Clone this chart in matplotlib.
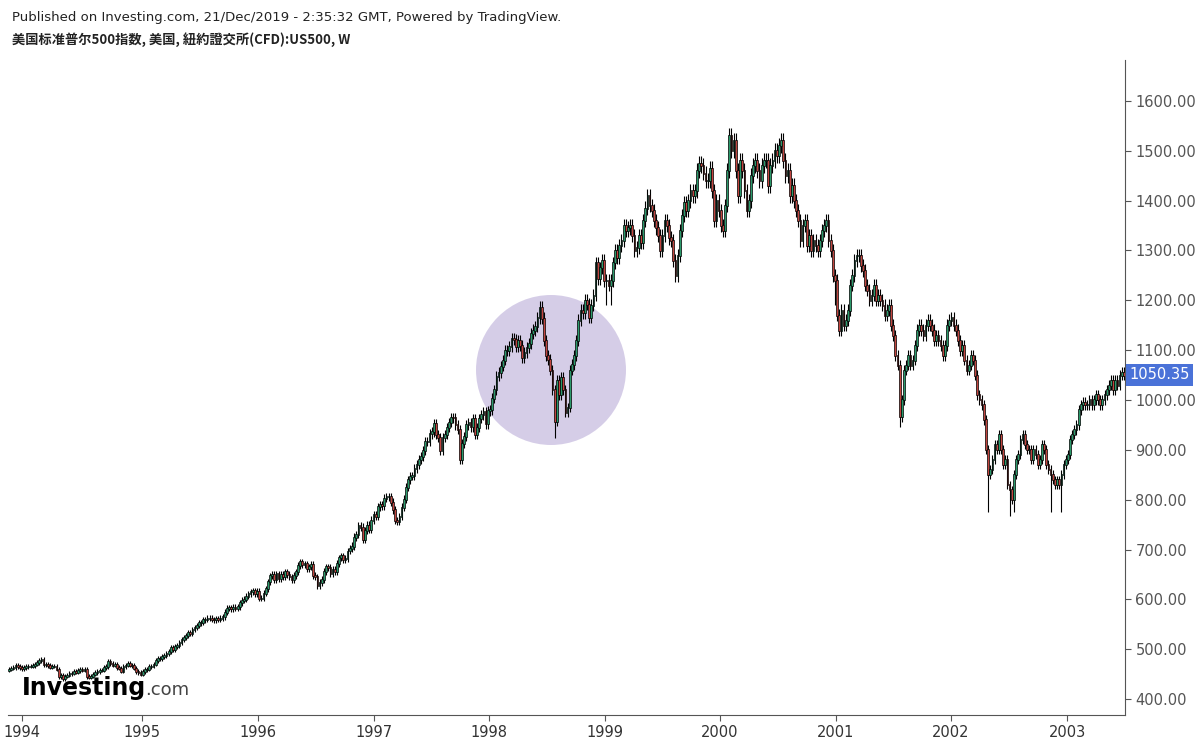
import matplotlib.pyplot as plt
from matplotlib.patches import Ellipse

# weekly closes, Oct 1993 .. Nov 2003
c1993 = [460, 462, 463, 467, 465, 463, 461, 463, 465, 466, 466]
c1994 = [467, 470, 474, 478, 480, 469, 470, 467, 464, 466, 466, 460, 445, 447, 441, 446, 448, 451,
         452, 455, 454, 457, 460, 458, 459, 445, 444, 446, 450, 453, 455, 458, 458, 463, 465, 475,
         471, 468, 470, 463, 462, 456, 465, 468, 472, 468, 467, 462, 455, 453, 450, 455]
c1995 = [459, 460, 465, 466, 470, 478, 481, 482, 485, 488, 491, 496, 503, 500, 505, 507, 514, 520,
         523, 528, 533, 532, 539, 544, 548, 553, 554, 559, 560, 562, 562, 560, 559, 561, 560, 562,
         565, 574, 582, 583, 581, 584, 582, 585, 593, 598, 600, 606, 611, 615, 617, 611]
c1996 = [616, 602, 602, 612, 621, 635, 647, 650, 640, 651, 641, 650, 645, 655, 650, 645, 640, 648,
         655, 668, 675, 670, 671, 662, 665, 670, 648, 645, 628, 634, 640, 656, 665, 664, 651, 660,
         655, 672, 683, 687, 680, 682, 697, 703, 707, 725, 730, 748, 745, 720, 738, 749]
c1997 = [741, 759, 770, 767, 786, 790, 788, 803, 806, 806, 795, 780, 758, 757, 766, 785, 801, 825,
         840, 847, 848, 862, 871, 880, 887, 898, 916, 917, 932, 936, 952, 931, 924, 899, 925, 930,
         945, 955, 965, 964, 950, 941, 880, 913, 927, 950, 955, 946, 963, 930, 945, 963]
c1998 = [970, 977, 952, 978, 980, 1003, 1020, 1048, 1055, 1068, 1080, 1099, 1100, 1107, 1123, 1122,
         1108, 1120, 1110, 1085, 1095, 1105, 1113, 1133, 1140, 1147, 1165, 1186, 1164, 1120, 1090,
         1081, 1060, 1020, 957, 1040, 1010, 1045, 1020, 975, 985, 1060, 1071, 1090, 1120, 1160, 1180,
         1175, 1200, 1192, 1166, 1190]
c1999 = [1210, 1275, 1243, 1265, 1280, 1239, 1240, 1230, 1240, 1275, 1300, 1285, 1310, 1320, 1350,
         1340, 1345, 1350, 1330, 1300, 1305, 1330, 1315, 1360, 1385, 1410, 1390, 1380, 1360, 1345,
         1330, 1300, 1330, 1360, 1350, 1325, 1320, 1280, 1250, 1290, 1340, 1370, 1396, 1380, 1400,
         1420, 1410, 1420, 1460, 1475, 1470, 1455]
c2000 = [1440, 1440, 1465, 1420, 1360, 1400, 1380, 1350, 1340, 1390, 1460, 1530, 1500, 1520, 1460,
         1410, 1480, 1460, 1420, 1380, 1400, 1450, 1470, 1480, 1460, 1440, 1470, 1480, 1480, 1430,
         1470, 1480, 1500, 1490, 1510, 1520, 1480, 1450, 1460, 1410, 1430, 1400, 1380, 1360, 1320,
         1350, 1360, 1310, 1330, 1300, 1320, 1310]
c2001 = [1300, 1320, 1340, 1350, 1360, 1320, 1300, 1250, 1240, 1170, 1140, 1180, 1150, 1160, 1180,
         1230, 1250, 1280, 1290, 1290, 1270, 1260, 1230, 1220, 1200, 1210, 1230, 1200, 1210, 1200,
         1190, 1170, 1180, 1190, 1150, 1130, 1090, 1070, 966, 1000, 1060, 1070, 1090, 1070, 1080,
         1110, 1140, 1150, 1140, 1130, 1150, 1160]
c2002 = [1150, 1140, 1120, 1130, 1120, 1110, 1090, 1110, 1150, 1160, 1165, 1150, 1140, 1120, 1100,
         1110, 1080, 1060, 1070, 1090, 1080, 1050, 1010, 1000, 990, 960, 900, 850, 860, 880, 910,
         900, 930, 900, 870, 880, 830, 820, 800, 850, 880, 890, 920, 930, 910, 900, 900, 880, 900,
         890, 870, 880]
c2003 = [910, 900, 870, 860, 850, 840, 830, 840, 830, 850, 870, 880, 890, 920, 930, 940, 950, 980,
         990, 995, 990, 990, 1000, 990, 1000, 1010, 1000, 990, 1000, 1010, 1020, 1030, 1040, 1020,
         1040, 1030, 1050, 1055, 1050]
# notable long lower wicks: close -> low
low_by_close = {966: 945, 957: 923, 820: 768, 850: 775, 1240: 1190}

closes = c1993 + c1994 + c1995 + c1996 + c1997 + c1998 + c1999 + c2000 + c2001 + c2002 + c2003
years = ['1994', '1995', '1996', '1997', '1998', '1999', '2000', '2001', '2002', '2003']
year_px = [22, 142, 258, 374, 489, 605, 720, 836, 951, 1067]
yticks = [400, 500, 600, 700, 800, 900, 1000, 1100, 1200, 1300, 1400, 1500, 1600]
last_price = 1050.35

N = len(closes)
W, H = 1197, 745
fig = plt.figure(figsize=(W / 100, H / 100), dpi=100)
ax_l, ax_r, ax_t, ax_b = 8, 1125, 60, 715
ax = fig.add_axes([ax_l / W, 1 - ax_b / H, (ax_r - ax_l) / W, (ax_b - ax_t) / H])
ax.set_xlim(-0.5, N - 0.5)
ax.set_ylim(368, 1682)

up, down = '#2b9a6b', '#c1453f'
for i, c in enumerate(closes):
    o = closes[i - 1] if i > 0 else c - 2
    hi = max(o, c) * 1.01
    lo = min(o, c) * 0.99
    if c in low_by_close:
        lo = low_by_close[c]
    ax.vlines(i, lo, hi, color='black', lw=0.8, zorder=2)
    ax.bar(i, abs(c - o) + 2, bottom=min(o, c) - 1, width=0.8,
           color=up if c >= o else down, edgecolor='black', linewidth=0.5, zorder=3)

# highlight circle
px_per_idx = (ax_r - ax_l) / N
px_per_val = (ax_b - ax_t) / (1682 - 368)
ax.add_patch(Ellipse(((551 - ax_l) / px_per_idx - 0.5, 1682 - (370 - ax_t) / px_per_val),
                     150 / px_per_idx, 150 / px_per_val, color='#c8bde0', alpha=0.75, zorder=1, lw=0))

ax.set_xticks([(p - ax_l) / px_per_idx - 0.5 for p in year_px])
ax.set_xticklabels(years)
ax.yaxis.tick_right()
ax.set_yticks(yticks)
ax.set_yticklabels([f'{v:.2f}' for v in yticks])
ax.tick_params(colors='#555555', labelsize=10.5, length=4)
ax.tick_params(axis='x', labelcolor='#333333')
for s in ['top', 'left']:
    ax.spines[s].set_visible(False)
ax.spines['right'].set_color('#555555')
ax.spines['bottom'].set_color('#555555')

ax.text(1.004, last_price, f'{last_price:.2f}', transform=ax.get_yaxis_transform(), va='center',
        ha='left', color='white', fontsize=10.5,
        bbox=dict(boxstyle='square,pad=0.25', fc='#4a72d8', ec='none'))

fig.text(12 / W, 1 - 17 / H, 'Published on Investing.com, 21/Dec/2019 - 2:35:32 GMT, Powered by TradingView.',
         fontsize=9.5, color='#222222', va='center', family='DejaVu Sans')
fig.text(12 / W, 1 - 40 / H, '美国标准普尔500指数, 美国, 紐約證交所(CFD):US500, W',
         fontsize=9.5, color='#222222', va='center', weight='bold',
         family=['Noto Sans CJK SC', 'Noto Sans CJK JP', 'Noto Sans CJK TC', 'DejaVu Sans'])
fig.text(22 / W, 1 - 688 / H, 'Investing', fontsize=17, weight='bold', color='black', va='center')
fig.text(145 / W, 1 - 690 / H, '.com', fontsize=13, color='#444444', va='center')

fig.savefig('out.png', dpi=100)
